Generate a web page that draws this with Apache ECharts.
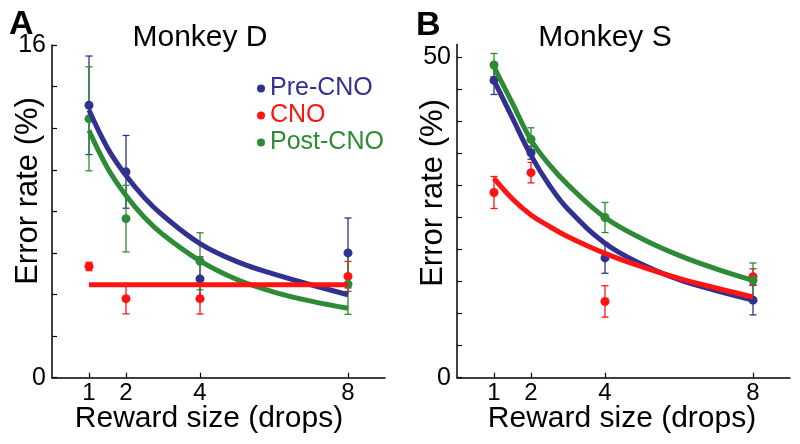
<!DOCTYPE html>
<html>
<head>
<meta charset="utf-8">
<script src="https://cdn.jsdelivr.net/npm/echarts@6/dist/echarts.min.js"></script>
<style>html,body{margin:0;padding:0;background:#fff;}#chart{width:800px;height:444px;}</style>
</head>
<body>
<div id="chart"></div>
<script>
// ---- data ----
const rewardSizes = [1, 2, 4, 8];
const xTickValues = [1, 2, 4, 8];
const yTicksD = [0, 2, 4, 6, 8, 10, 12, 14, 16];
const yLabelsD = [0, 16];
const yTicksS = [0, 5, 10, 15, 20, 25, 30, 35, 40, 45, 50];
const yLabelsS = [0, 50];

// Monkey D
const dPreMean = [13.1, 9.9, 4.75, 6.0];
const dPreErr = [2.37, 1.75, 1.06, 1.68];
const dCnoMean = [5.35, 3.8, 3.8, 4.87];
const dCnoErr = [0.2, 0.73, 0.74, 0.72];
const dPostMean = [12.45, 7.65, 5.6, 4.5];
const dPostErr = [2.5, 1.6, 1.37, 1.45];
const fitX = [1, 1.5, 2, 2.5, 3, 4, 5, 6, 7, 8];
const dPreFit = [12.87, 11.05, 9.72, 8.65, 7.8, 6.45, 5.58, 4.98, 4.47, 3.99];
const dPostFit = [11.89, 10.09, 8.76, 7.7, 6.88, 5.62, 4.72, 4.12, 3.68, 3.34];
const dCnoFitX = [1, 8];
const dCnoFit = [4.47, 4.47];

// Monkey S
const sPreMean = [46.4, 35.1, 18.7, 12.1];
const sPreErr = [2.2, 1.0, 2.4, 2.3];
const sCnoMean = [28.9, 32.0, 11.9, 15.75];
const sCnoErr = [2.5, 1.6, 2.45, 1.25];
const sPostMean = [48.8, 37.2, 25.0, 15.2];
const sPostErr = [1.8, 1.8, 2.35, 2.7];
const sPreFit = [46.4, 40.5, 34.7, 30.0, 26.3, 21.0, 17.7, 15.3, 13.6, 12.1];
const sPostFit = [48.5, 42.8, 37.1, 33.2, 30.1, 25.0, 21.7, 19.1, 17.0, 15.2];
const sCnoFit = [31.1, 27.9, 25.4, 23.6, 22.0, 19.4, 17.3, 15.5, 14.0, 12.6];

const names = ['Pre-CNO', 'CNO', 'Post-CNO'];
const colors = { 'Pre-CNO': '#31318f', 'CNO': '#ff1414', 'Post-CNO': '#2e8b35' };
const FONT = '"Liberation Sans", Arial, Helvetica, sans-serif';

function zip(xs, ys) { return xs.map((x, i) => [x, ys[i]]); }
function errData(xs, m, e) { return xs.map((x, i) => [x, m[i] - e[i], m[i] + e[i]]); }

function errorSeries(idx, name, data) {
  return {
    type: 'custom', name: name + ' error', xAxisIndex: idx, yAxisIndex: idx, z: 3,
    itemStyle: { color: colors[name] },
    renderItem: function (params, api) {
      const x = api.value(0);
      const lo = api.coord([x, api.value(1)]);
      const hi = api.coord([x, api.value(2)]);
      const w = 3.5;
      const st = { stroke: colors[name], lineWidth: 1.3 };
      return {
        type: 'group',
        children: [
          { type: 'line', shape: { x1: lo[0], y1: lo[1], x2: hi[0], y2: hi[1] }, style: st },
          { type: 'line', shape: { x1: lo[0] - w, y1: lo[1], x2: lo[0] + w, y2: lo[1] }, style: st },
          { type: 'line', shape: { x1: hi[0] - w, y1: hi[1], x2: hi[0] + w, y2: hi[1] }, style: st }
        ]
      };
    },
    encode: { x: 0, y: [1, 2] },
    data: data,
    silent: true
  };
}
function scatterSeries(idx, name, data) {
  return { type: 'scatter', name: name, xAxisIndex: idx, yAxisIndex: idx, symbolSize: 9, z: 4,
    itemStyle: { color: colors[name], opacity: 1 }, data: data };
}
function fitSeries(idx, name, data) {
  return { type: 'line', name: name + ' fit', xAxisIndex: idx, yAxisIndex: idx, smooth: 0.4, showSymbol: false,
    symbol: 'none', z: 5, itemStyle: { color: colors[name] }, lineStyle: { color: colors[name], width: 5 }, data: data };
}

function xAxisCfg(idx) {
  return {
    type: 'value', gridIndex: idx, min: 0, max: 9,
    axisLine: { show: true, onZero: false, lineStyle: { color: '#000', width: 1.5 } },
    axisTick: { show: true, inside: true, length: 5, customValues: xTickValues, lineStyle: { color: '#000', width: 1.2 } },
    axisLabel: { customValues: xTickValues, fontSize: 24, color: '#000', fontFamily: FONT, margin: 4 },
    splitLine: { show: false }
  };
}
function yAxisCfg(idx, max, ticks, labels) {
  return {
    type: 'value', gridIndex: idx, min: 0, max: max,
    axisLine: { show: true, onZero: false, lineStyle: { color: '#000', width: 1.5 } },
    axisTick: { show: true, inside: true, length: 5, customValues: ticks, lineStyle: { color: '#000', width: 1.2 } },
    axisLabel: { customValues: labels, fontSize: 25, color: '#000', fontFamily: FONT, margin: 6 },
    splitLine: { show: false }
  };
}

const series = [
  fitSeries(0, 'Pre-CNO', zip(fitX, dPreFit)),
  fitSeries(0, 'Post-CNO', zip(fitX, dPostFit)),
  fitSeries(0, 'CNO', zip(dCnoFitX, dCnoFit)),
  errorSeries(0, 'Pre-CNO', errData(rewardSizes, dPreMean, dPreErr)),
  errorSeries(0, 'CNO', errData(rewardSizes, dCnoMean, dCnoErr)),
  errorSeries(0, 'Post-CNO', errData(rewardSizes, dPostMean, dPostErr)),
  scatterSeries(0, 'Pre-CNO', zip(rewardSizes, dPreMean)),
  scatterSeries(0, 'CNO', zip(rewardSizes, dCnoMean)),
  scatterSeries(0, 'Post-CNO', zip(rewardSizes, dPostMean)),

  fitSeries(1, 'Post-CNO', zip(fitX, sPostFit)),
  fitSeries(1, 'Pre-CNO', zip(fitX, sPreFit)),
  fitSeries(1, 'CNO', zip(fitX, sCnoFit)),
  errorSeries(1, 'Pre-CNO', errData(rewardSizes, sPreMean, sPreErr)),
  errorSeries(1, 'CNO', errData(rewardSizes, sCnoMean, sCnoErr)),
  errorSeries(1, 'Post-CNO', errData(rewardSizes, sPostMean, sPostErr)),
  scatterSeries(1, 'Pre-CNO', zip(rewardSizes, sPreMean)),
  scatterSeries(1, 'CNO', zip(rewardSizes, sCnoMean)),
  scatterSeries(1, 'Post-CNO', zip(rewardSizes, sPostMean))
];

const chart = echarts.init(document.getElementById('chart'), null, { renderer: 'canvas' });
chart.setOption({
  animation: false,
  backgroundColor: '#fff',
  textStyle: { fontFamily: FONT },
  grid: [
    { left: 52, top: 45, width: 333, height: 332.7 },
    { left: 457, top: 44.5, width: 333, height: 333.2 }
  ],
  xAxis: [xAxisCfg(0), xAxisCfg(1)],
  yAxis: [yAxisCfg(0, 16, yTicksD, yLabelsD), yAxisCfg(1, 52, yTicksS, yLabelsS)],
  legend: {
    orient: 'vertical', left: 257, top: 76, padding: 0, itemGap: 2,
    icon: 'circle', itemWidth: 8, itemHeight: 8,
    selectedMode: false,
    data: names.map(n => ({ name: n, itemStyle: { color: colors[n] }, textStyle: { color: colors[n], fontSize: 25, fontFamily: FONT } }))
  },
  graphic: [
    { type: 'text', left: 9, top: 8, style: { text: 'A', font: 'bold 34px ' + FONT, fill: '#000' } },
    { type: 'text', left: 416, top: 9, style: { text: 'B', font: 'bold 34px ' + FONT, fill: '#000' } },
    { type: 'text', x: 200, y: 38, style: { text: 'Monkey D', font: '30px ' + FONT, fill: '#000', align: 'center', verticalAlign: 'middle' } },
    { type: 'text', x: 605, y: 38, style: { text: 'Monkey S', font: '30px ' + FONT, fill: '#000', align: 'center', verticalAlign: 'middle' } },
    { type: 'text', x: 209, y: 419, style: { text: 'Reward size (drops)', font: '30px ' + FONT, fill: '#000', align: 'center', verticalAlign: 'middle' } },
    { type: 'text', x: 622, y: 419, style: { text: 'Reward size (drops)', font: '30px ' + FONT, fill: '#000', align: 'center', verticalAlign: 'middle' } },
    { type: 'text', x: 28, y: 191, rotation: Math.PI / 2, style: { text: 'Error rate (%)', font: '31px ' + FONT, fill: '#000', align: 'center', verticalAlign: 'middle' } },
    { type: 'text', x: 433, y: 193, rotation: Math.PI / 2, style: { text: 'Error rate (%)', font: '31px ' + FONT, fill: '#000', align: 'center', verticalAlign: 'middle' } }
  ],
  series: series
});
</script>
</body>
</html>
